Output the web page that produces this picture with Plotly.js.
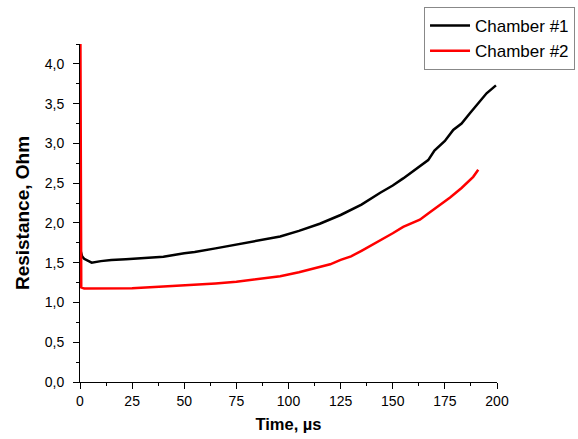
<!DOCTYPE html>
<html>
<head>
<meta charset="utf-8">
<script src="https://cdn.plot.ly/plotly-3.0.1.min.js"></script>
<style>html,body{margin:0;padding:0;background:#fff;}#chart{width:578px;height:439px;}</style>
</head>
<body>
<div id="chart"></div>
<script>
// Chamber #1 (black)
var timeChamber1 = [0.3, 1, 2, 4, 5.6, 10, 15, 22, 30, 35, 40, 50, 55, 65, 75, 85, 96, 105, 115, 125, 135, 144, 150, 155, 163, 167, 170, 175, 179, 183, 187, 191, 195, 199.5];
var resChamber1  = [1.65, 1.58, 1.55, 1.52, 1.50, 1.52, 1.535, 1.545, 1.56, 1.565, 1.575, 1.62, 1.635, 1.68, 1.73, 1.78, 1.83, 1.90, 1.99, 2.10, 2.23, 2.38, 2.47, 2.56, 2.72, 2.79, 2.91, 3.03, 3.17, 3.25, 3.38, 3.50, 3.63, 3.73];
// Chamber #2 (red)
var timeChamber2 = [0.2, 0.3, 0.4, 0.6, 2, 10, 25, 40, 55, 65, 75, 85, 96, 105, 115, 120, 125, 130, 135, 144, 150, 155, 163, 167, 172, 177.5, 183, 188.6, 191];
var resChamber2  = [4.25, 3.0, 1.5, 1.19, 1.175, 1.175, 1.18, 1.20, 1.22, 1.24, 1.26, 1.29, 1.33, 1.38, 1.45, 1.48, 1.535, 1.58, 1.65, 1.78, 1.87, 1.95, 2.04, 2.12, 2.21, 2.32, 2.44, 2.58, 2.67];

var traces = [
  {x: timeChamber1, y: resChamber1, type: 'scatter', mode: 'lines', name: 'Chamber #1',
   line: {color: '#000000', width: 2.5}, cliponaxis: false},
  {x: timeChamber2, y: resChamber2, type: 'scatter', mode: 'lines', name: 'Chamber #2',
   line: {color: '#ff0000', width: 2.5}, cliponaxis: false}
];

var FAM = 'Arial, Liberation Sans, sans-serif';
var axisFont = {family: FAM, size: 14, color: '#000'};
var layout = {
  width: 578, height: 439,
  margin: {l: 80, r: 81, t: 44, b: 57, autoexpand: false},
  paper_bgcolor: '#fff', plot_bgcolor: '#fff',
  separators: ',.',
  showlegend: true,
  legend: {xref: 'container', yref: 'container', x: 0.7336, y: 0.984, xanchor: 'left', yanchor: 'top',
    bordercolor: '#888', borderwidth: 1, bgcolor: '#fff',
    font: {family: FAM, size: 17, color: '#000'},
    tracegroupgap: 0, itemwidth: 40},
  xaxis: {
    range: [0, 200], tickvals: [0, 25, 50, 75, 100, 125, 150, 175, 200],
    ticks: 'outside', ticklen: 6, tickwidth: 1, tickcolor: '#000',
    showline: true, linecolor: '#000', linewidth: 1, mirror: false,
    showgrid: false, zeroline: false, tickfont: axisFont, automargin: false,
    minor: {ticks: 'outside', ticklen: 3, tickwidth: 1, tickcolor: '#000', dtick: 12.5, tick0: 0, showgrid: false},
    title: {text: '<b>Time, µs</b>', font: {family: FAM, size: 16.5, color: '#000'}, standoff: 10}
  },
  yaxis: {
    range: [0, 4.25], tickvals: [0, 0.5, 1, 1.5, 2, 2.5, 3, 3.5, 4], tickformat: '.1f',
    ticks: 'outside', ticklen: 6, tickwidth: 1, tickcolor: '#000',
    showline: true, linecolor: '#000', linewidth: 1, mirror: false,
    showgrid: false, zeroline: false, tickfont: axisFont, ticklabelstandoff: 6, automargin: false,
    minor: {ticks: 'outside', ticklen: 3, tickwidth: 1, tickcolor: '#000', dtick: 0.25, tick0: 0, showgrid: false},
    title: {text: '<b>Resistance, Ohm</b>', font: {family: FAM, size: 19, color: '#000'}, standoff: 10}
  }
};

Plotly.newPlot('chart', traces, layout, {displayModeBar: false, staticPlot: true});
</script>
</body>
</html>
